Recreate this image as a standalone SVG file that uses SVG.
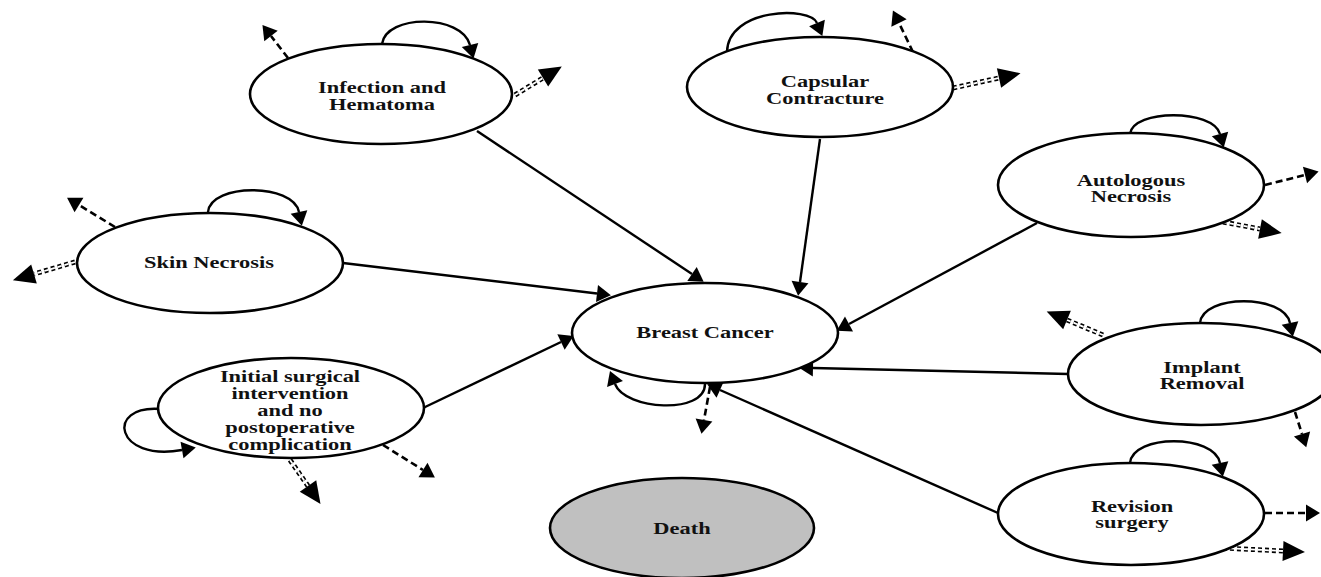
<svg xmlns="http://www.w3.org/2000/svg" width="1321" height="577" viewBox="0 0 1321 577">
  <defs>
    <!-- arrowheads: refX=0 so each path ends at the base of its head -->
    <marker id="head" markerUnits="userSpaceOnUse" markerWidth="15" markerHeight="18" refX="0" refY="8.5" orient="auto" overflow="visible">
      <path d="M0,0 L14,8.5 L0,17 z" fill="#000"/>
    </marker>
    <marker id="headBig" markerUnits="userSpaceOnUse" markerWidth="23" markerHeight="21" refX="0" refY="10" orient="auto" overflow="visible">
      <path d="M0,0 L22,10 L0,20 z" fill="#000"/>
    </marker>
    <style>
      .state ellipse { fill: #fff; stroke: #000; stroke-width: 2.6; }
      .state.absorbing ellipse { fill: #c0c0c0; }
      .state text { font-family: "Liberation Serif", "Times New Roman", serif; font-weight: bold; font-size: 16.5px; text-anchor: middle; fill: #111; }
      .solid { fill: none; stroke: #000; stroke-width: 2.4; marker-end: url(#head); }
      .loop { fill: none; stroke: #000; stroke-width: 2.4; marker-end: url(#head); }
      .dash { fill: none; stroke: #000; stroke-width: 2.6; stroke-dasharray: 7 4; marker-end: url(#head); }
      .dbl-outer { fill: none; stroke: #000; stroke-width: 5; stroke-dasharray: 4 3; }
      .dbl-inner { fill: none; stroke: #fff; stroke-width: 1.8; stroke-dasharray: 4 3; marker-end: url(#headBig); }
    </style>
  </defs>

  <rect width="1321" height="577" fill="#fff"/>

  <!-- transitions -->
  <g id="connectors">
    <!-- into Breast Cancer -->
    <path class="solid" d="M477,131 L692,274"/>
    <path class="solid" d="M820,139 L800,282"/>
    <path class="solid" d="M1037,223 L849,324"/>
    <path class="solid" d="M343,263 L597,293.5"/>
    <path class="solid" d="M423,408 L561,342"/>
    <path class="solid" d="M1068,374 L813,368"/>
    <path class="solid" d="M998,513 L720,390"/>

    <!-- self loops -->
    <path class="loop" d="M382,44 C386,14 462,14 470,45"/>
    <path class="loop" d="M727,52 C728,8 810,6 817,23"/>
    <path class="loop" d="M1130,134 C1133,109 1213,109 1220,134"/>
    <path class="loop" d="M208,212 C211,183 293,183 299,212"/>
    <path class="loop" d="M1200,323 C1203,294 1284,294 1290,323"/>
    <path class="loop" d="M1130,463 C1133,434 1214,434 1220,463"/>
    <path class="loop" d="M160,409 C105,405 115,462 182,450"/>
    <path class="loop" d="M705,384 C705,415 625,410 615,384"/>

    <!-- dashed exits -->
    <path class="dash" d="M288,58 L271,36"/>
    <path class="dash" d="M913,52 L899,23"/>
    <path class="dash" d="M1265,185 L1305,175"/>
    <path class="dash" d="M115,227 L79,205"/>
    <path class="dash" d="M383,445 L423,470"/>
    <path class="dash" d="M710,387 L704,420"/>
    <path class="dash" d="M1295,412 L1302,434"/>
    <path class="dash" d="M1265,513 L1306,513"/>

    <!-- double-dashed exits -->
    <path class="dbl-outer" d="M515,95 L543,78"/>
    <path class="dbl-inner" d="M515,95 L543,78"/>
    <path class="dbl-outer" d="M953,88 L999,78"/>
    <path class="dbl-inner" d="M953,88 L999,78"/>
    <path class="dbl-outer" d="M1223,222 L1260,229"/>
    <path class="dbl-inner" d="M1223,222 L1260,229"/>
    <path class="dbl-outer" d="M75,262 L34,274"/>
    <path class="dbl-inner" d="M75,262 L34,274"/>
    <path class="dbl-outer" d="M290,460 L308,486"/>
    <path class="dbl-inner" d="M290,460 L308,486"/>
    <path class="dbl-outer" d="M1103,335 L1067,320"/>
    <path class="dbl-inner" d="M1103,335 L1067,320"/>
    <path class="dbl-outer" d="M1223,548 L1283,551"/>
    <path class="dbl-inner" d="M1223,548 L1283,551"/>
  </g>

  <g id="infection-hematoma" class="state">
    <ellipse cx="381" cy="94" rx="131" ry="50"/>
    <text transform="translate(382,0) scale(1.36,1)"><tspan x="0" y="93">Infection and</tspan><tspan x="0" y="110">Hematoma</tspan></text>
  </g>

  <g id="capsular-contracture" class="state">
    <ellipse cx="820" cy="87" rx="133" ry="50"/>
    <text transform="translate(825,0) scale(1.36,1)"><tspan x="0" y="87">Capsular</tspan><tspan x="0" y="104">Contracture</tspan></text>
  </g>

  <g id="autologous-necrosis" class="state">
    <ellipse cx="1131" cy="185" rx="133" ry="52"/>
    <text transform="translate(1131,0) scale(1.36,1)"><tspan x="0" y="186">Autologous</tspan><tspan x="0" y="202">Necrosis</tspan></text>
  </g>

  <g id="skin-necrosis" class="state">
    <ellipse cx="210" cy="263" rx="133" ry="50"/>
    <text transform="translate(209,0) scale(1.36,1)"><tspan x="0" y="268">Skin Necrosis</tspan></text>
  </g>

  <g id="initial-surgery" class="state">
    <ellipse cx="291" cy="408" rx="133" ry="50"/>
    <text transform="translate(290,0) scale(1.36,1)"><tspan x="0" y="382">Initial surgical</tspan><tspan x="0" y="399">intervention</tspan><tspan x="0" y="416">and no</tspan><tspan x="0" y="433">postoperative</tspan><tspan x="0" y="450">complication</tspan></text>
  </g>

  <g id="breast-cancer" class="state">
    <ellipse cx="705" cy="333" rx="133" ry="50"/>
    <text transform="translate(705,0) scale(1.36,1)"><tspan x="0" y="338">Breast Cancer</tspan></text>
  </g>

  <g id="implant-removal" class="state">
    <ellipse cx="1201" cy="374" rx="133" ry="51"/>
    <text transform="translate(1202,0) scale(1.36,1)"><tspan x="0" y="373">Implant</tspan><tspan x="0" y="389">Removal</tspan></text>
  </g>

  <g id="revision-surgery" class="state">
    <ellipse cx="1131" cy="514" rx="133" ry="51"/>
    <text transform="translate(1132,0) scale(1.36,1)"><tspan x="0" y="512">Revision</tspan><tspan x="0" y="528">surgery</tspan></text>
  </g>

  <g id="death" class="state absorbing">
    <ellipse cx="682" cy="528" rx="132" ry="50"/>
    <text transform="translate(682,0) scale(1.36,1)"><tspan x="0" y="534">Death</tspan></text>
  </g>
</svg>
